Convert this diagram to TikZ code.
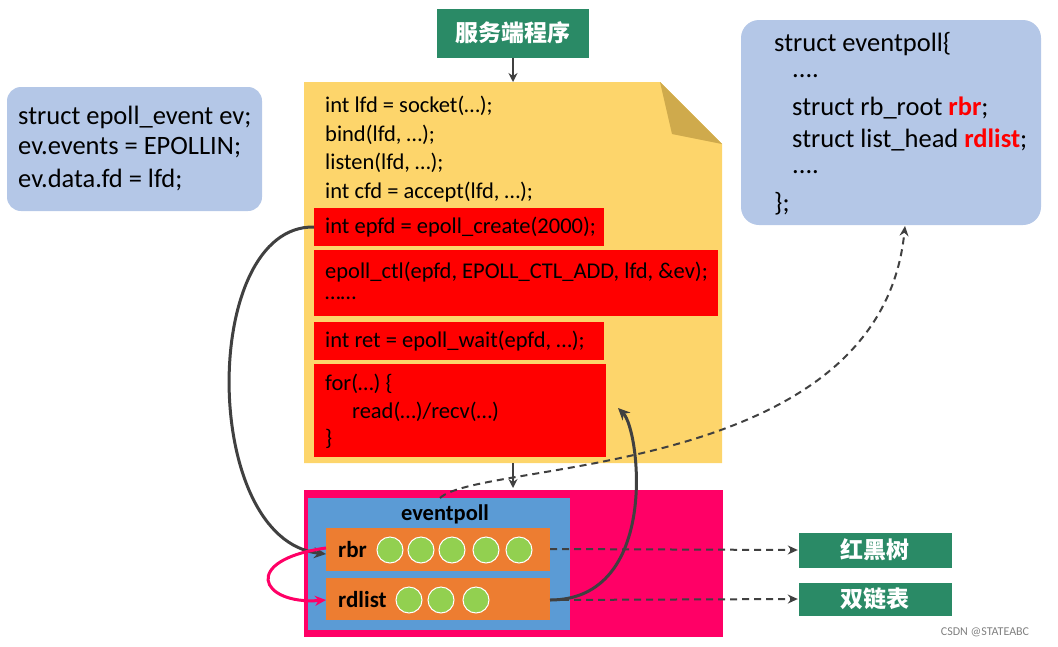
\documentclass[tikz,border=0pt]{standalone}
\usepackage{fontspec}
\setmainfont{Carlito}
\newfontfamily\cjk{Noto Sans CJK SC}
\usetikzlibrary{arrows.meta}
\definecolor{gbox}{HTML}{2A8A66}
\definecolor{yel}{HTML}{FDD56B}
\definecolor{fold}{HTML}{CFAA4C}
\definecolor{lblue}{HTML}{B4C7E7}
\definecolor{pink}{HTML}{FF0066}
\definecolor{mblue}{HTML}{5B9BD5}
\definecolor{orng}{HTML}{ED7D31}
\definecolor{grn}{HTML}{92D050}
\definecolor{dk}{HTML}{404040}
\begin{document}
\begin{tikzpicture}[x=1pt,y=-1pt,
  txt/.style={anchor=west,font=\fontsize{22.5}{24}\selectfont,inner sep=0},
  big/.style={anchor=west,font=\fontsize{26.5}{28}\selectfont,inner sep=0},
  gb/.style={fill=gbox,draw=white,text=white,font=\cjk\bfseries\fontsize{23}{25}\selectfont},
  rbox/.style={fill=red,draw=none},
  circ/.style={circle,fill=grn,draw=white,line width=1pt,minimum size=26pt,inner sep=0},
  dasharr/.style={dk,dash pattern=on 7pt off 5pt,line width=2pt,-{Stealth[length=10pt,width=9pt]}},
  solidarr/.style={dk,line width=3pt,-{Stealth[length=12pt,width=11pt]}}]
\useasboundingbox (0,0) rectangle (1058,646);
% top box
\node[gb,minimum width=153pt,minimum height=50pt] (srv) at (513,33) {服务端程序};
% doc
\fill[yel] (304,82) -- (660,82) -- (722,144) -- (722,463) -- (304,463) -- cycle;
\fill[fold] (660,82) -- (722,144) -- (672,134) -- cycle;
\coordinate (doctop) at (513,82);
\coordinate (docbot) at (513,463);
\node[txt] at (325,106) {int lfd = socket(…);};
\node[txt] at (325,135) {bind(lfd, …);};
\node[txt] at (325,163) {listen(lfd, …);};
\node[txt] at (325,192) {int cfd = accept(lfd, …);};
\fill[rbox] (314,208) rectangle (604,246);
\node[txt] (create) at (325,227) {int epfd = epoll\_create(2000);};
\coordinate (cl) at (314,227);
\fill[rbox] (314,250) rectangle (718,316);
\node[txt] at (325,272) {epoll\_ctl(epfd, EPOLL\_CTL\_ADD, lfd, \&ev);};
\node[txt] at (325,298) {……};
\fill[rbox] (314,322) rectangle (604,360);
\node[txt] at (325,341) {int ret = epoll\_wait(epfd, …);};
\fill[rbox] (314,364) rectangle (606,457);
\node[txt] at (325,384) {for(…) \{};
\node[txt] at (352,412) {read(…)/recv(…)};
\node[txt] at (325,439) {\}};
\coordinate (forend) at (618,408);
% left box
\fill[lblue,rounded corners=14pt] (7,87) rectangle (262,211);
\node[big] at (18,117) {struct epoll\_event ev;};
\node[big] at (18,148) {ev.events = EPOLLIN;};
\node[big] at (18,180) {ev.data.fd = lfd;};
% right box
\fill[lblue,rounded corners=18pt] (741,20) rectangle (1041,225);
\node[big] at (774,44) {struct eventpoll\{};
\node[big] at (792,76) {....};
\node[big] at (792,108) {struct rb\_root \textcolor{red}{\bfseries rbr};};
\node[big] at (792,140) {struct list\_head \textcolor{red}{\bfseries rdlist};};
\node[big] at (792,172) {....};
\node[big] at (774,204) {\};};
\coordinate (rbot) at (905,226);
% bottom
\fill[pink] (304,490) rectangle (723,637);
\coordinate (pinktop) at (513,488);
\fill[mblue] (308,498) rectangle (570,630);
\node[font=\bfseries\fontsize{22.5}{24}\selectfont] at (445,514) {eventpoll};
\coordinate (evtop) at (440,498);
\fill[orng] (326,528) rectangle (550,571);
\node[txt,font=\bfseries\fontsize{23}{25}\selectfont] at (338,550) {rbr};
\foreach \x in {390,421,452,486,519} \node[circ] at (\x,550) {};
\fill[orng] (326,578) rectangle (550,620);
\node[txt,font=\bfseries\fontsize{23}{25}\selectfont] at (338,600) {rdlist};
\foreach \x in {409,441,476} \node[circ] at (\x,600) {};
\coordinate (rbrl) at (326,554);
\coordinate (rbrl2) at (326,548);
\coordinate (rdl) at (326,600);
\coordinate (rbrr) at (550,549);
\coordinate (rdr) at (550,600);
\node[gb,minimum width=154pt,minimum height=36pt] (hs) at (875,550) {红黑树};
\node[gb,minimum width=154pt,minimum height=34pt] (ll) at (875,599) {双链表};
% arrows
\draw[dk,line width=2pt,-{Stealth[length=9pt,width=9pt]}] (srv.south) -- (doctop);
\draw[dk,line width=2pt,-{Stealth[length=9pt,width=9pt]}] (docbot) -- (pinktop);
\draw[dasharr] (rbrr) -- (hs.west);
\draw[dasharr] (rdr) -- (ll.west);
\draw[dasharr] (evtop) .. controls (480,460) and (880,480) .. (rbot);
\draw[solidarr] (cl) .. controls (200,225) and (200,540) .. (rbrl);
\draw[pink,line width=3pt,-{Stealth[length=11pt,width=10pt]}] (rbrl2) .. controls (240,560) and (260,605) .. (rdl);
\draw[solidarr] (rdr) .. controls (660,600) and (640,430) .. (forend);
\node[font=\fontsize{12}{14}\selectfont,text=gray] at (985,632) {CSDN @STATEABC};
\end{tikzpicture}
\end{document}
